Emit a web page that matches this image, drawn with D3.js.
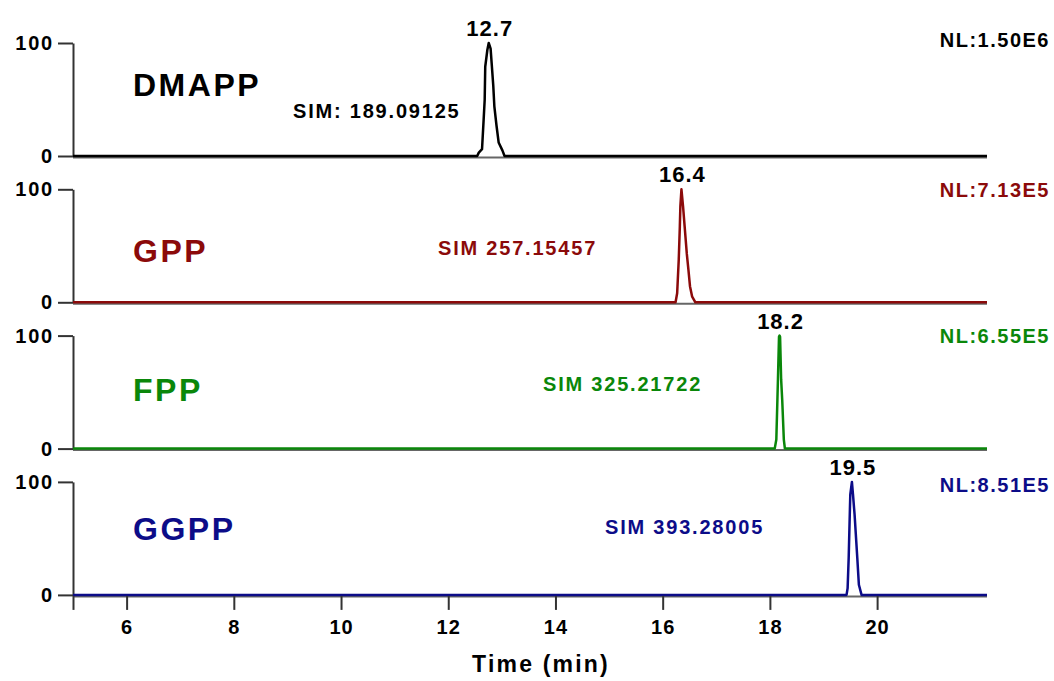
<!DOCTYPE html>
<html lang="en">
<head>
<meta charset="UTF-8">
<title>SIM chromatograms of prenyl diphosphates</title>
<script src="https://d3js.org/d3.v7.min.js"></script>
<style>
  body { margin: 0; background: #fff; }
  svg { display: block; font-family: "Liberation Sans", Arial, sans-serif; font-weight: bold; }
</style>
</head>
<body>
<svg id="chart" width="1054" height="681"></svg>
<script>
// ---- data ----
const compounds = ["DMAPP", "GPP", "FPP", "GGPP"];
const simLabels = ["SIM: 189.09125", "SIM 257.15457", "SIM 325.21722", "SIM 393.28005"];
const nlLabels = ["NL:1.50E6", "NL:7.13E5", "NL:6.55E5", "NL:8.51E5"];
const peakLabels = ["12.7", "16.4", "18.2", "19.5"];
const xTicks = [5, 6, 8, 10, 12, 14, 16, 18, 20];
const yTicks = [0, 100];
const timeRange = [5, 22.05];

// retention time (min) and relative abundance (%) for each trace
const dmappTime = [5, 12.54, 12.57, 12.63, 12.66, 12.68, 12.69, 12.73, 12.755, 12.79, 12.81, 12.84, 12.86, 12.90, 12.94, 13.01, 13.05, 22.05];
const dmappAbund = [0, 0, 3, 6, 32, 50, 79, 94, 100, 95, 82, 62, 44, 27, 12, 5, 0, 0];
const gppTime = [5, 16.24, 16.27, 16.30, 16.32, 16.33, 16.35, 16.38, 16.41, 16.45, 16.48, 16.51, 16.55, 16.61, 22.05];
const gppAbund = [0, 0, 8, 38, 67, 85, 100, 85, 67, 43, 29, 14, 5, 0, 0];
const fppTime = [5, 18.09, 18.12, 18.14, 18.15, 18.17, 18.18, 18.19, 18.21, 18.23, 18.26, 18.28, 22.05];
const fppAbund = [0, 0, 8, 43, 61, 99, 100, 99, 61, 43, 8, 0, 0];
const ggppTime = [5, 19.43, 19.45, 19.47, 19.49, 19.50, 19.53, 19.55, 19.58, 19.63, 19.66, 19.71, 22.05];
const ggppAbund = [0, 0, 6, 33, 71, 89, 100, 89, 71, 33, 9, 0, 0];

// ---- layout / style ----
const colors = ["#000000", "#8b0a0a", "#0a870a", "#0c0c88"];
const panelTop = 43, panelH = 113, panelStep = 146.3;
const nameBase = [96, 262, 401, 540];
const simPos = [[293, 118], [438, 255], [543, 391], [605, 534]];
const nlBase = [47, 197, 343, 492];

const traces = [
  {time: dmappTime, abund: dmappAbund},
  {time: gppTime, abund: gppAbund},
  {time: fppTime, abund: fppAbund},
  {time: ggppTime, abund: ggppAbund}
];

const svg = d3.select("#chart");
const x = d3.scaleLinear().domain(timeRange).range([73, 987]);

traces.forEach((tr, i) => {
  const top = panelTop + i * panelStep;
  const y = d3.scaleLinear().domain([0, 100]).range([top + panelH, top]);
  const g = svg.append("g");

  // axis line under the trace
  g.append("line")
    .attr("x1", x(timeRange[0])).attr("x2", x(timeRange[1]))
    .attr("y1", y(0) + 1.5).attr("y2", y(0) + 1.5)
    .attr("stroke", "#666").attr("stroke-width", 2);

  // y axis
  const yAxis = g.append("g")
    .attr("transform", `translate(${x(timeRange[0])},0)`)
    .call(d3.axisLeft(y).tickValues(yTicks).tickSize(15).tickSizeOuter(0).tickPadding(4));
  yAxis.select(".domain").attr("stroke", "#333").attr("stroke-width", 2);
  yAxis.selectAll(".tick line").attr("stroke", "#333").attr("stroke-width", 2);
  yAxis.selectAll(".tick text")
    .attr("fill", "#000").style("font-size", "20px").style("font-weight", "bold")
    .style("letter-spacing", "1.8px").attr("font-family", null);

  // trace
  const pts = tr.time.map((t, k) => [t, tr.abund[k]]);
  g.append("path")
    .datum(pts)
    .attr("fill", "none")
    .attr("stroke", colors[i])
    .attr("stroke-width", 2.5)
    .attr("stroke-linejoin", "round")
    .attr("d", d3.line().x(d => x(d[0])).y(d => y(d[1])));

  // peak label at apex
  const apex = pts.reduce((a, b) => (b[1] > a[1] ? b : a));
  g.append("text")
    .attr("x", x(apex[0]) + 1).attr("y", top - 7)
    .attr("text-anchor", "middle")
    .style("font-size", "22px").style("letter-spacing", "1px")
    .attr("fill", "#000")
    .text(peakLabels[i]);

  // compound name
  g.append("text")
    .attr("x", 133).attr("y", nameBase[i])
    .style("font-size", "32px").style("letter-spacing", "2.5px")
    .attr("fill", colors[i])
    .text(compounds[i]);

  // SIM label
  g.append("text")
    .attr("x", simPos[i][0]).attr("y", simPos[i][1])
    .style("font-size", "20px").style("letter-spacing", "1.8px")
    .attr("fill", colors[i])
    .text(simLabels[i]);

  // NL label
  g.append("text")
    .attr("x", 1050).attr("y", nlBase[i])
    .attr("text-anchor", "end")
    .style("font-size", "20px").style("letter-spacing", "1.5px")
    .attr("fill", colors[i])
    .text(nlLabels[i]);

  // bottom time axis on the last panel
  if (i === traces.length - 1) {
    const xAxis = g.append("g")
      .attr("transform", `translate(0,${y(0) + 1})`)
      .call(d3.axisBottom(x).tickValues(xTicks).tickSize(14).tickSizeOuter(0).tickPadding(10)
        .tickFormat(d => (d === 5 ? "" : d)));
    xAxis.select(".domain").remove();
    xAxis.selectAll(".tick line").attr("stroke", "#333").attr("stroke-width", 2);
    xAxis.selectAll(".tick text")
      .attr("fill", "#000").style("font-size", "20px").style("font-weight", "bold")
      .style("letter-spacing", "1px").attr("font-family", null);
  }
});

svg.append("text")
  .attr("x", 541).attr("y", 672)
  .attr("text-anchor", "middle")
  .style("font-size", "23px").style("letter-spacing", "2.2px")
  .text("Time (min)");
</script>
</body>
</html>
